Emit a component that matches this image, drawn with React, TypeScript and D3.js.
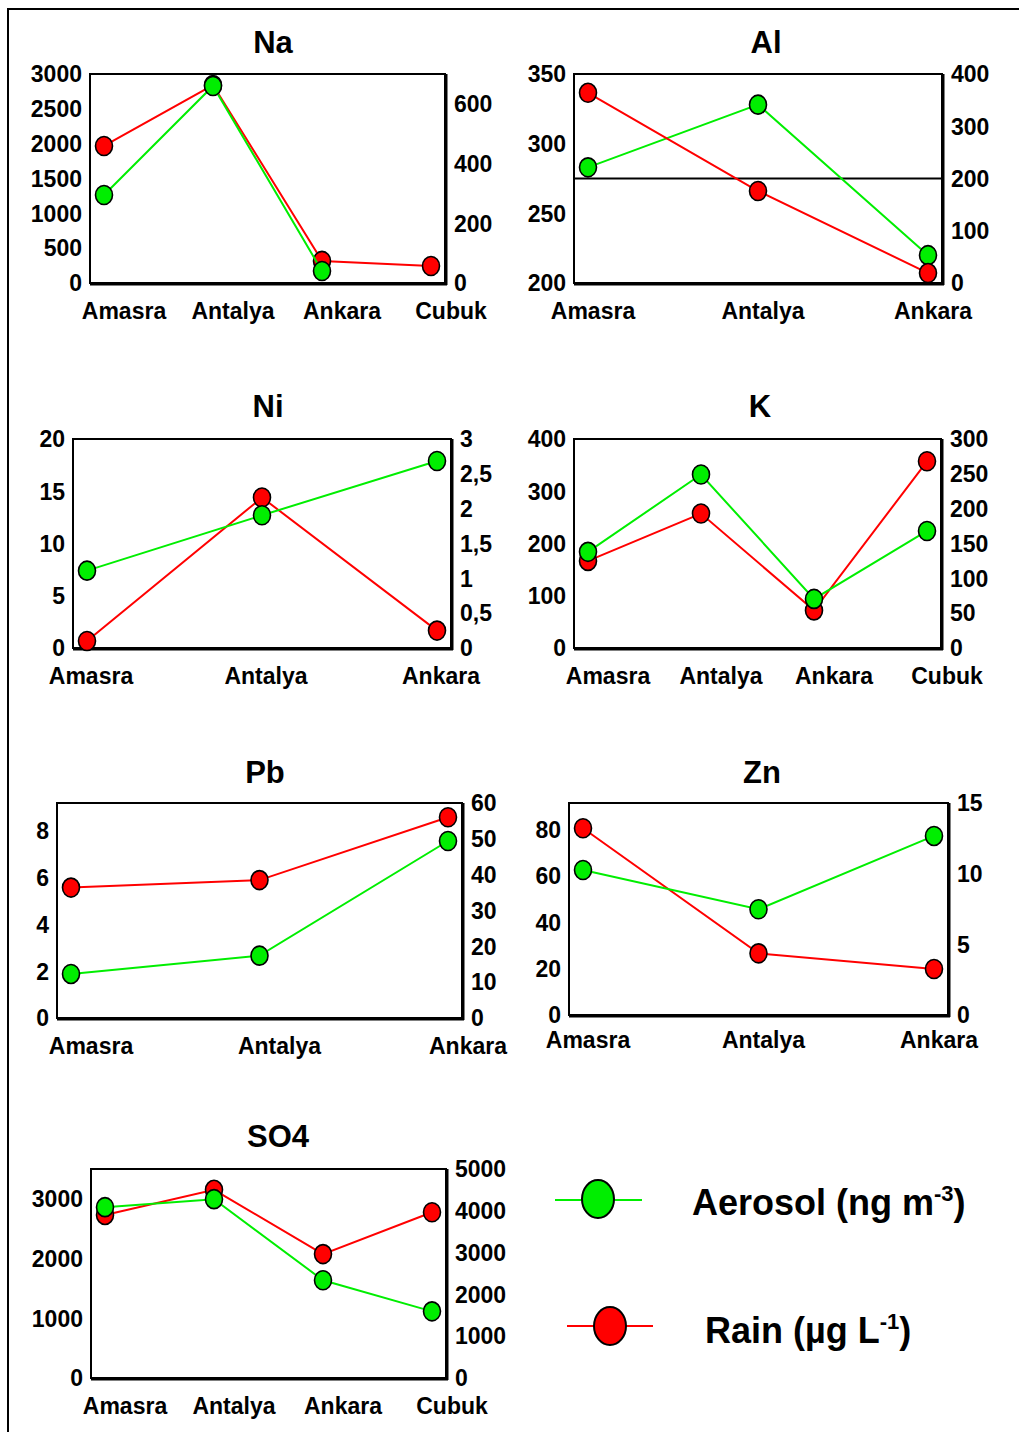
import React from "react";
import * as d3 from "d3";

// ---- data ----
const naSites = ["Amasra", "Antalya", "Ankara", "Cubuk"];
const naAerosol = [1263, 2828, 172, null];
const naRain = [459, 663, 74, 57];
const naLeftTicks = [0, 500, 1000, 1500, 2000, 2500, 3000];
const naRightTicks = [0, 200, 400, 600];

const alSites = ["Amasra", "Antalya", "Ankara"];
const alAerosol = [283, 328, 220];
const alRain = [364, 176, 19];
const alLeftTicks = [200, 250, 300, 350];
const alRightTicks = [0, 100, 200, 300, 400];
const alRefLine = 200;

const niSites = ["Amasra", "Antalya", "Ankara"];
const niAerosol = [7.4, 12.7, 17.9];
const niRain = [0.1, 2.16, 0.25];
const niLeftTicks = [0, 5, 10, 15, 20];
const niRightTicks = [0, 0.5, 1, 1.5, 2, 2.5, 3];

const kSites = ["Amasra", "Antalya", "Ankara", "Cubuk"];
const kAerosol = [184, 332, 94, 224];
const kRain = [125, 193, 54, 268];
const kLeftTicks = [0, 100, 200, 300, 400];
const kRightTicks = [0, 50, 100, 150, 200, 250, 300];

const pbSites = ["Amasra", "Antalya", "Ankara"];
const pbAerosol = [12.3, 17.4, 49.4];
const pbRain = [5.58, 5.9, 8.59];
const pbLeftTicks = [0, 2, 4, 6, 8];
const pbRightTicks = [0, 10, 20, 30, 40, 50, 60];

const znSites = ["Amasra", "Antalya", "Ankara"];
const znAerosol = [10.26, 7.48, 12.67];
const znRain = [80.6, 26.6, 19.85];
const znLeftTicks = [0, 20, 40, 60, 80];
const znRightTicks = [0, 5, 10, 15];

const so4Sites = ["Amasra", "Antalya", "Ankara", "Cubuk"];
const so4Aerosol = [2861, 2995, 1637, 1116];
const so4Rain = [3901, 4502, 2964, 3966];
const so4LeftTicks = [0, 1000, 2000, 3000];
const so4RightTicks = [0, 1000, 2000, 3000, 4000, 5000];

const GREEN = "#00ee00";
const RED = "#ff0000";
const FONT = "'Liberation Sans', Arial, Helvetica, sans-serif";

type Panel = {
  title: string;
  sites: string[];
  aerosol: (number | null)[];
  rain: (number | null)[];
  aerosolAxis: "left" | "right";
  leftDomain: [number, number];
  rightDomain: [number, number];
  leftTicks: number[];
  rightTicks: number[];
  box: [number, number, number, number]; // x0, y0, x1, y1
  titleX: number;
  titleY: number;
  labelShift: number;
  labelY: number;
  refLine?: number;
  rainOnTop?: boolean;
};

const fmtComma = (v: number) => String(v).replace(".", ",");

const panels: Panel[] = [
  {
    title: "Na", sites: naSites, aerosol: naAerosol, rain: naRain, aerosolAxis: "left",
    leftDomain: [0, 3000], rightDomain: [0, 700], leftTicks: naLeftTicks, rightTicks: naRightTicks,
    box: [90, 74, 445, 283], titleX: 273, titleY: 53, labelShift: 20, labelY: 319,
  },
  {
    title: "Al", sites: alSites, aerosol: alAerosol, rain: alRain, aerosolAxis: "left",
    leftDomain: [200, 350], rightDomain: [0, 400], leftTicks: alLeftTicks, rightTicks: alRightTicks,
    box: [574, 74, 942, 283], titleX: 766, titleY: 53, labelShift: 5, labelY: 319, refLine: alRefLine, rainOnTop: true,
  },
  {
    title: "Ni", sites: niSites, aerosol: niAerosol, rain: niRain, aerosolAxis: "left",
    leftDomain: [0, 20], rightDomain: [0, 3], leftTicks: niLeftTicks, rightTicks: niRightTicks,
    box: [73, 439, 451, 648], titleX: 268, titleY: 417, labelShift: 4, labelY: 684,
  },
  {
    title: "K", sites: kSites, aerosol: kAerosol, rain: kRain, aerosolAxis: "left",
    leftDomain: [0, 400], rightDomain: [0, 300], leftTicks: kLeftTicks, rightTicks: kRightTicks,
    box: [574, 439, 941, 648], titleX: 760, titleY: 417, labelShift: 20, labelY: 684,
  },
  {
    title: "Pb", sites: pbSites, aerosol: pbAerosol, rain: pbRain, aerosolAxis: "right",
    leftDomain: [0, 9.2], rightDomain: [0, 60], leftTicks: pbLeftTicks, rightTicks: pbRightTicks,
    box: [57, 803, 462, 1018], titleX: 265, titleY: 783, labelShift: 20, labelY: 1054,
  },
  {
    title: "Zn", sites: znSites, aerosol: znAerosol, rain: znRain, aerosolAxis: "right",
    leftDomain: [0, 91.5], rightDomain: [0, 15], leftTicks: znLeftTicks, rightTicks: znRightTicks,
    box: [569, 803, 948, 1015], titleX: 762, titleY: 783, labelShift: 5, labelY: 1048,
  },
  {
    title: "SO4", sites: so4Sites, aerosol: so4Aerosol, rain: so4Rain, aerosolAxis: "left",
    leftDomain: [0, 3500], rightDomain: [0, 5000], leftTicks: so4LeftTicks, rightTicks: so4RightTicks,
    box: [91, 1169, 446, 1378], titleX: 278, titleY: 1147, labelShift: 20, labelY: 1414,
  },
];

function PanelChart({ p }: { p: Panel }) {
  const [x0, y0, x1, y1] = p.box;
  const x = d3.scalePoint<string>().domain(p.sites).range([x0 + 14, x1 - 14]);
  const yL = d3.scaleLinear().domain(p.leftDomain).range([y1, y0]);
  const yR = d3.scaleLinear().domain(p.rightDomain).range([y1, y0]);
  const yA = p.aerosolAxis === "left" ? yL : yR;
  const yRn = p.aerosolAxis === "left" ? yR : yL;

  const mk = (vals: (number | null)[], ys: d3.ScaleLinear<number, number>) =>
    p.sites
      .map((s, i) => ({ s, v: vals[i] }))
      .filter((d) => d.v !== null && d.v !== undefined)
      .map((d) => ({ cx: x(d.s) as number, cy: ys(d.v as number) }));

  const aPts = mk(p.aerosol, yA);
  const rPts = mk(p.rain, yRn);
  const line = d3.line<{ cx: number; cy: number }>().x((d) => d.cx).y((d) => d.cy);

  const series = [
    { pts: aPts, color: GREEN, key: "a" },
    { pts: rPts, color: RED, key: "r" },
  ];
  const order = p.rainOnTop ? [series[0], series[1]] : [series[1], series[0]];

  const rightFmt = p.title === "Ni" ? fmtComma : (v: number) => String(v);

  return (
    <g>
      <text x={p.titleX} y={p.titleY} textAnchor="middle" fontFamily={FONT} fontWeight="bold" fontSize={31}>
        {p.title}
      </text>
      <rect x={x0} y={y0} width={x1 - x0} height={y1 - y0} fill="white" stroke="black" strokeWidth={2} />
      <line x1={x0} x2={x1 + 2} y1={y1 + 1} y2={y1 + 1} stroke="black" strokeWidth={3} />
      <line x1={x1 + 1} x2={x1 + 1} y1={y0} y2={y1 + 2} stroke="black" strokeWidth={3} />
      {p.refLine !== undefined && (
        <line x1={x0} x2={x1} y1={yR(p.refLine)} y2={yR(p.refLine)} stroke="black" strokeWidth={2} />
      )}
      {order.map((s) => (
        <g key={s.key}>
          <path d={line(s.pts) || ""} fill="none" stroke={s.color} strokeWidth={2} />
          {s.pts.map((d, i) => (
            <ellipse key={i} cx={d.cx} cy={d.cy} rx={8.5} ry={9.5} fill={s.color} stroke="black" strokeWidth={1.6} />
          ))}
        </g>
      ))}
      {p.leftTicks.map((t) => (
        <text key={"l" + t} x={x0 - 8} y={yL(t)} dy="0.36em" textAnchor="end" fontFamily={FONT} fontWeight="bold" fontSize={23}>
          {String(t)}
        </text>
      ))}
      {p.rightTicks.map((t) => (
        <text key={"r" + t} x={x1 + 9} y={yR(t)} dy="0.36em" textAnchor="start" fontFamily={FONT} fontWeight="bold" fontSize={23}>
          {rightFmt(t)}
        </text>
      ))}
      {p.sites.map((s) => (
        <text key={"c" + s} x={(x(s) as number) + p.labelShift} y={p.labelY} textAnchor="middle" fontFamily={FONT} fontWeight="bold" fontSize={23}>
          {s}
        </text>
      ))}
    </g>
  );
}

export default function App() {
  return (
    <svg width={1019} height={1432} style={{ position: "absolute", left: 0, top: 0, background: "white" }}>
      <rect x={0} y={0} width={1019} height={1432} fill="white" />
      <line x1={8} x2={1019} y1={9} y2={9} stroke="black" strokeWidth={2} />
      <line x1={8} x2={8} y1={8} y2={1432} stroke="black" strokeWidth={2} />
      {panels.map((p) => (
        <PanelChart key={p.title} p={p} />
      ))}
      {/* legend */}
      <g>
        <line x1={555} x2={642} y1={1200} y2={1200} stroke={GREEN} strokeWidth={2} />
        <ellipse cx={598} cy={1199} rx={16} ry={19} fill={GREEN} stroke="black" strokeWidth={2} />
        <text x={692} y={1215} fontFamily={FONT} fontWeight="bold" fontSize={36}>
          Aerosol (ng m<tspan dy={-14} fontSize={22}>-3</tspan><tspan dy={14}>)</tspan>
        </text>
        <line x1={567} x2={653} y1={1326} y2={1326} stroke={RED} strokeWidth={2} />
        <ellipse cx={610} cy={1326} rx={16} ry={19} fill={RED} stroke="black" strokeWidth={2} />
        <text x={705} y={1343} fontFamily={FONT} fontWeight="bold" fontSize={36}>
          Rain (µg L<tspan dy={-14} fontSize={22}>-1</tspan><tspan dy={14}>)</tspan>
        </text>
      </g>
    </svg>
  );
}
